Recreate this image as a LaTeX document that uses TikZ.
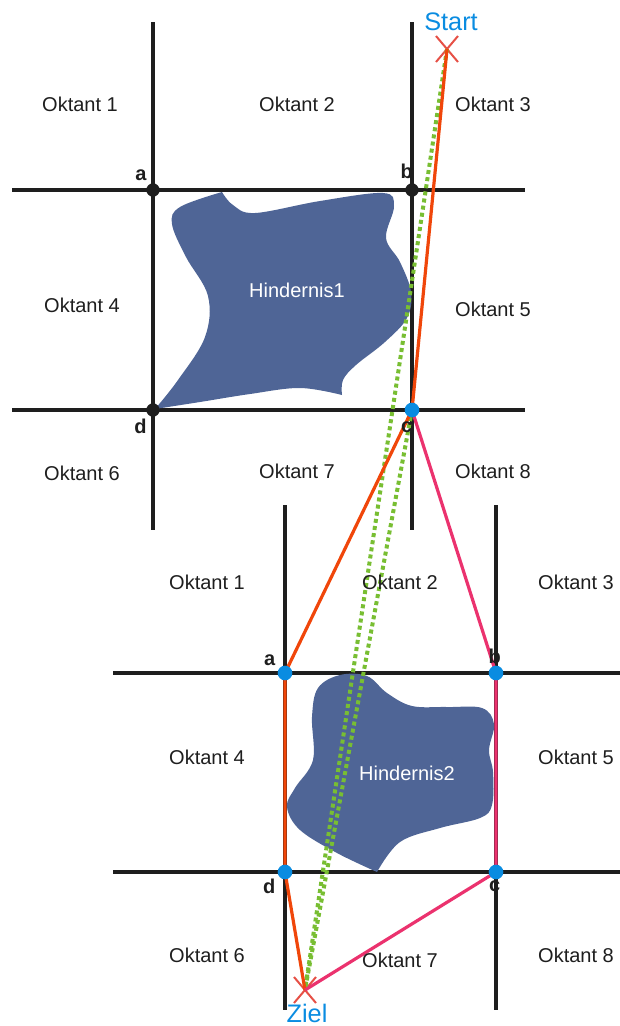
\documentclass[tikz,border=0pt]{standalone}
\usepackage{fontspec}
\setmainfont{Liberation Sans}
\usetikzlibrary{positioning,shapes.misc}
\definecolor{gridblack}{RGB}{30,30,30}
\definecolor{blobblue}{RGB}{79,101,150}
\definecolor{ptblue}{RGB}{10,140,225}
\definecolor{pathorange}{RGB}{240,70,10}
\definecolor{pathpink}{RGB}{235,50,110}
\definecolor{dotgreen}{RGB}{120,190,50}
\definecolor{markred}{RGB}{230,80,70}

\begin{document}
\begin{tikzpicture}[
  x=0.75pt, y=-0.75pt,
  gridline/.style={gridblack, line width=2.4pt},
  blob/.style={fill=blobblue},
  bloblabel/.style={text=white, font={\fontsize{15}{18}\selectfont}},
  oktant/.style={text=gridblack, font={\fontsize{15}{18}\selectfont}},
  ptlab/.style={text=gridblack, inner sep=0pt, font={\fontsize{15}{18}\selectfont\bfseries}},
  dotblack/.style={circle, fill=gridblack, inner sep=0pt, minimum size=10pt},
  dotblue/.style={circle, fill=ptblue, inner sep=0pt, minimum size=11pt},
  xmark/.style={cross out, draw=markred, line width=1.5pt, inner sep=0pt, minimum width=15pt, minimum height=18pt},
  endlab/.style={text=ptblue, inner sep=0pt, font={\fontsize{19}{22}\selectfont}},
  orangepath/.style={pathorange, line width=2.4pt, line join=round},
  pinkpath/.style={pathpink, line width=2.4pt, line join=round},
  greenpath/.style={dotgreen, line width=3pt, dash pattern=on 3pt off 2.4pt}
]
  \useasboundingbox (0,0) rectangle (620,1026);

  % corner points
  \coordinate (a1) at (153,190);
  \coordinate (b1) at (412,190);
  \coordinate (c1) at (412,410);
  \coordinate (d1) at (153,410);
  \coordinate (a2) at (285,673);
  \coordinate (b2) at (496,673);
  \coordinate (c2) at (496,872);
  \coordinate (d2) at (285,872);

  % grid of obstacle 1
  \draw[gridline] (153,22) -- (153,530);
  \draw[gridline] (412,22) -- (412,530);
  \draw[gridline] (12,190) -- (525,190);
  \draw[gridline] (12,410) -- (525,410);
  % grid of obstacle 2
  \draw[gridline] (285,505) -- (285,1010);
  \draw[gridline] (496,505) -- (496,1010);
  \draw[gridline] (113,673) -- (620,673);
  \draw[gridline] (113,872) -- (620,872);

  % obstacles
  \fill[blob] plot[smooth, tension=0.6] coordinates {(155,409) (178,380) (205,337) (208,296) (186,257) (172,224) (180,207) (222,192)}
    -- plot[smooth, tension=0.6] coordinates {(222,192) (233,205) (255,213) (320,201) (383,193) (394,206) (386,238) (400,262) (411,292) (407,318) (385,342) (356,365) (343,380) (342,395)}
    -- plot[smooth, tension=0.6] coordinates {(342,395) (300,388) (250,394) (200,402) (155,409)} -- cycle;
  \fill[blob] plot[smooth, tension=0.6] coordinates {(377,872) (337,853) (300,830) (287,807) (295,788) (313,760) (312,717) (318,688) (340,675) (367,676) (387,693) (412,706) (447,707) (482,708) (494,724) (489,750) (493,772) (492,805) (480,818) (440,828) (400,842) (377,872)} -- cycle;
  \node[bloblabel] (h1) at (297,290) {Hindernis1};
  \node[bloblabel] (h2) at (407,773) {Hindernis2};

  % start and goal
  \node[xmark] (start) at (447,49) {};
  \node[xmark] (ziel) at (305,990) {};
  \node[endlab] (startlab) at (451,22) {Start};
  \node[endlab] (ziellab) at (307,1013) {Ziel};

  % paths
  \draw[greenpath] (start.center) -- (ziel.center);
  \draw[greenpath] (c1) -- (ziel.center);
  \draw[orangepath] (start.center) -- (c1) -- (a2) -- (d2) -- (ziel.center);
  \draw[pinkpath] (c1) -- (b2) -- (c2) -- (ziel.center);

  % corner dots
  \node[dotblack] (a1dot) at (a1) {};
  \node[dotblack] (b1dot) at (b1) {};
  \node[dotblue]  (c1dot) at (c1) {};
  \node[dotblack] (d1dot) at (d1) {};
  \node[dotblue]  (a2dot) at (a2) {};
  \node[dotblue]  (b2dot) at (b2) {};
  \node[dotblue]  (c2dot) at (c2) {};
  \node[dotblue]  (d2dot) at (d2) {};

  \node[ptlab, above left=3pt and 1pt of a1dot] (a1lab) {a};
  \node[ptlab, above=3pt of b1dot, xshift=-4pt] (b1lab) {b};
  \node[ptlab, below=3pt of c1dot, xshift=-4pt] (c1lab) {c};
  \node[ptlab, below left=3pt and 1pt of d1dot] (d1lab) {d};
  \node[ptlab, above left=1pt and 3pt of a2dot] (a2lab) {a};
  \node[ptlab, above=1pt of b2dot, xshift=-1pt] (b2lab) {b};
  \node[ptlab, below=1pt of c2dot, xshift=-1pt] (c2lab) {c};
  \node[ptlab, below left=1pt and 3pt of d2dot] (d2lab) {d};

  % octants, obstacle 1
  \node[oktant] (o11) at (80,104)  {Oktant 1};
  \node[oktant] (o12) at (297,104) {Oktant 2};
  \node[oktant] (o13) at (493,104) {Oktant 3};
  \node[oktant] (o14) at (82,305)  {Oktant 4};
  \node[oktant] (o15) at (493,309) {Oktant 5};
  \node[oktant] (o16) at (82,473)  {Oktant 6};
  \node[oktant] (o17) at (297,471) {Oktant 7};
  \node[oktant] (o18) at (493,471) {Oktant 8};
  % octants, obstacle 2
  \node[oktant] (o21) at (207,582) {Oktant 1};
  \node[oktant] (o22) at (400,582) {Oktant 2};
  \node[oktant] (o23) at (576,582) {Oktant 3};
  \node[oktant] (o24) at (207,757) {Oktant 4};
  \node[oktant] (o25) at (576,757) {Oktant 5};
  \node[oktant] (o26) at (207,955) {Oktant 6};
  \node[oktant] (o27) at (400,960) {Oktant 7};
  \node[oktant] (o28) at (576,955) {Oktant 8};
\end{tikzpicture}
\end{document}
